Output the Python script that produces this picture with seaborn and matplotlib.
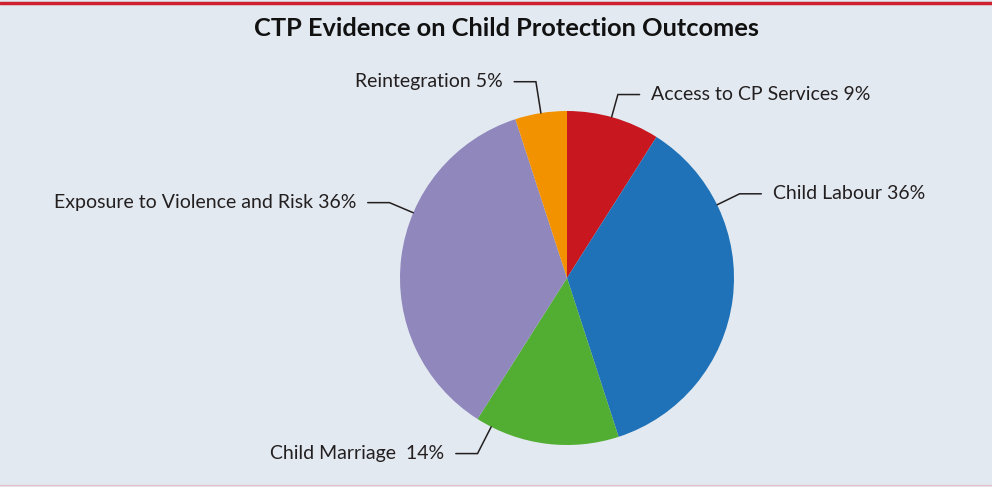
import numpy as np
import matplotlib
matplotlib.use("Agg")
import matplotlib.pyplot as plt
from matplotlib.lines import Line2D
import seaborn as sns

# chart data, clockwise from 12 o'clock
labels = ['Access to CP Services 9%', 'Child Labour 36%', 'Child Marriage  14%',
          'Exposure to Violence and Risk 36%', 'Reintegration 5%']
shares = [9, 36, 14, 36, 5]
colors = ['#c8171e', '#1f72b8', '#52ae32', '#9087bd', '#f39200']

# where each leader line leaves the pie (degrees), and how far out it bends
anchor_deg = [74.5, 26, -117, 157, 99]
elbow_r = [1.14, 1.15, 1.18, 1.155, 1.19]

bg = '#e2e9f0'
sns.set_theme(style='white')
plt.rcParams['font.family'] = ['Lato', 'DejaVu Sans']

fig = plt.figure(figsize=(9.92, 4.87), dpi=100, facecolor=bg)
ax = fig.add_axes([0, 0, 1, 1])
ax.set_facecolor(bg)

ax.pie(shares, colors=colors, startangle=90, counterclock=False,
       radius=1, wedgeprops=dict(linewidth=0))

# 1 data unit = 167 px, centre at (567, 278) px from top-left
scale = 167
ax.set_xlim(-567 / scale, (992 - 567) / scale)
ax.set_ylim((278 - 487) / scale, 278 / scale)
ax.set_aspect('auto')
ax.axis('off')

h, gap = 0.13, 0.07
for lab, th, r1 in zip(labels, anchor_deg, elbow_r):
    t = np.deg2rad(th)
    x0, y0 = np.cos(t), np.sin(t)
    x1, y1 = r1 * x0, r1 * y0
    s = 1 if x0 > 0 else -1
    x2 = x1 + s * h
    ax.plot([x0, x1, x2], [y0, y1, y1], color='#231f20', lw=1.1,
            solid_joinstyle='miter')
    ax.text(x2 + s * gap, y1, lab, ha='left' if s > 0 else 'right',
            va='center', fontsize=14, color='#231f20')

fig.text(0.511, 1 - 28 / 487, 'CTP Evidence on Child Protection Outcomes',
         ha='center', va='center', fontsize=18.3, fontweight='bold', color='#111111')

# red rule on top, faint rule at the bottom
fig.add_artist(Line2D([0, 1], [1 - 3 / 487, 1 - 3 / 487], color='#cf2030', lw=2.5,
                      transform=fig.transFigure))
fig.add_artist(Line2D([0, 1], [2 / 487, 2 / 487], color='#e6c3cb', lw=1,
                      transform=fig.transFigure))

fig.savefig('out.png', dpi=100, facecolor=bg)
